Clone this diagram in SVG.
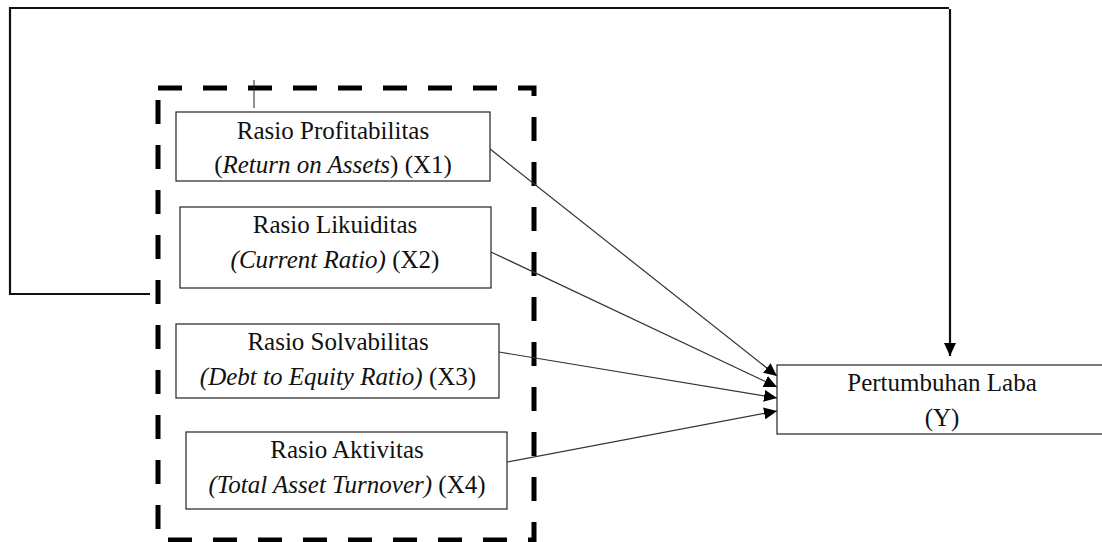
<svg xmlns="http://www.w3.org/2000/svg" width="1102" height="542" viewBox="0 0 1102 542">
<style>
text{font-family:"Liberation Serif","Times New Roman",serif;font-size:25px;fill:#111;text-anchor:middle}
.i{font-style:italic}
.box{fill:#fff;stroke:#222;stroke-width:1.2}
.thin{fill:none;stroke:#333;stroke-width:1.2}
.thick{fill:none;stroke:#111;stroke-width:2.2}
</style>
<defs>
<marker id="ah" markerUnits="userSpaceOnUse" markerWidth="14" markerHeight="12" refX="13" refY="6" orient="auto">
<path d="M0,0 L13,6 L0,12 Z" fill="#000"/>
</marker>
</defs>
<rect width="1102" height="542" fill="#fff"/>
<g id="group-frame">
<rect x="158" y="88" width="376" height="452" fill="none" stroke="#000" stroke-width="5" stroke-dasharray="24 21"/>
<line x1="254" y1="80" x2="254" y2="108" stroke="#222" stroke-width="1"/>
</g>
<g id="connectors">
<polyline class="thick" points="150,294 10,294 10,8 949,8"/>
<line class="thick" x1="950" y1="9" x2="950" y2="356" marker-end="url(#ah)"/>
<line class="thin" x1="490" y1="149" x2="777" y2="376" marker-end="url(#ah)"/>
<line class="thin" x1="491" y1="252" x2="777" y2="387" marker-end="url(#ah)"/>
<line class="thin" x1="499" y1="352" x2="777" y2="398" marker-end="url(#ah)"/>
<line class="thin" x1="502" y1="463" x2="777" y2="411" marker-end="url(#ah)"/>
</g>
<g id="node-x1">
<rect class="box" x="176" y="112" width="314" height="69"/>
<text x="333" y="139">Rasio Profitabilitas</text>
<text x="333" y="173">(<tspan class="i">Return on Assets</tspan>) (X1)</text>
</g>
<g id="node-x2">
<rect class="box" x="180" y="207" width="311" height="81"/>
<text x="335" y="233">Rasio Likuiditas</text>
<text x="335" y="268"><tspan class="i">(Current Ratio)</tspan> (X2)</text>
</g>
<g id="node-x3">
<rect class="box" x="176" y="324" width="323" height="74"/>
<text x="338" y="350">Rasio Solvabilitas</text>
<text x="338" y="385"><tspan class="i">(Debt to Equity Ratio)</tspan> (X3)</text>
</g>
<g id="node-x4">
<rect class="box" x="186" y="432" width="321" height="77"/>
<text x="347" y="458">Rasio Aktivitas</text>
<text x="347" y="493"><tspan class="i">(Total Asset Turnover)</tspan> (X4)</text>
</g>
<g id="node-y">
<rect class="box" x="777" y="365" width="330" height="69"/>
<text x="942" y="391">Pertumbuhan Laba</text>
<text x="942" y="426">(Y)</text>
</g>
</svg>
